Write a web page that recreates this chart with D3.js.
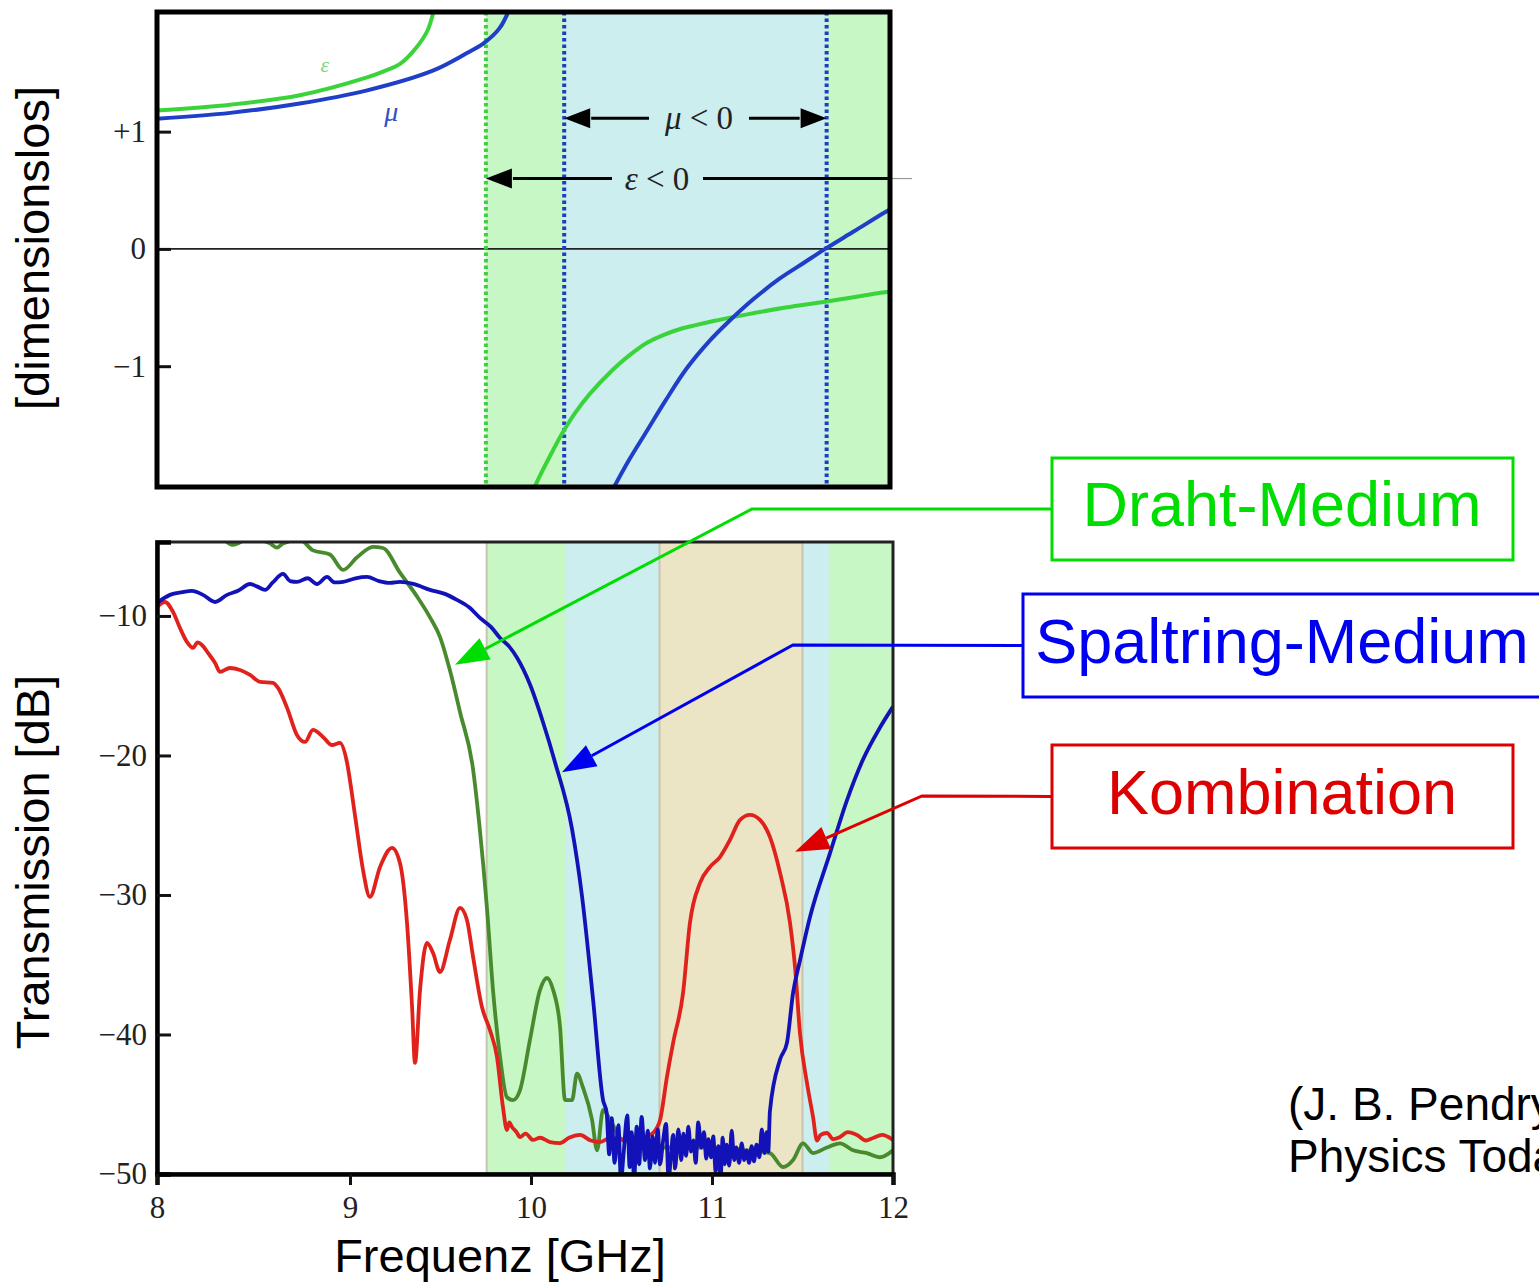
<!DOCTYPE html>
<html>
<head>
<meta charset="utf-8">
<script src="https://cdn.jsdelivr.net/npm/d3@7"></script>
<style>
  body { margin: 0; background: #fff; }
  svg { display: block; }
</style>
</head>
<body>
<script>
// ---- data ----
const freqTicks = [8, 9, 10, 11, 12];
const relTicks = [1, 0, -1];
const relTickLabels = ["+1", "0", "\u22121"];
const dbTicks = [-10, -20, -30, -40, -50];

// frequency bands (GHz)
const epsNegStart = 9.755;
const muNegStart = 10.19;
const muNegEnd = 11.648;
const bothNeg = [10.71, 11.50];

// top panel: relative permittivity / permeability
const epsUpper = [[8.0,1.18],[8.38,1.23],[8.74,1.31],[9.09,1.46],[9.18,1.51],[9.28,1.58],[9.37,1.72],[9.43,1.86],[9.47,2.06]];
const muUpper = [[8.0,1.11],[8.38,1.16],[8.74,1.24],[9.09,1.35],[9.46,1.52],[9.65,1.67],[9.74,1.75],[9.83,1.88],[9.89,2.06]];
const epsLower = [[10.0,-2.12],[10.05,-1.95],[10.12,-1.74],[10.18,-1.57],[10.25,-1.40],[10.33,-1.24],[10.46,-1.03],[10.55,-0.91],[10.65,-0.80],[10.74,-0.735],[10.83,-0.685],[10.92,-0.65],[11.02,-0.615],[11.20,-0.56],[11.42,-0.50],[11.64,-0.45],[11.97,-0.37],[12.0,-0.365]];
const muLower = [[10.46,-2.05],[10.55,-1.80],[10.65,-1.55],[10.75,-1.30],[10.87,-1.02],[11.0,-0.78],[11.09,-0.64],[11.24,-0.43],[11.39,-0.25],[11.52,-0.12],[11.64,0.0],[11.80,0.15],[11.97,0.31],[12.0,0.335]];

// bottom panel: transmission (dB)
const wireMedium = [[8.30,-3.6],[8.394,-4.9],[8.482,-4.4],[8.585,-4.8],[8.622,-5.1],[8.653,-4.8],[8.741,-4.55],[8.808,-5.3],[8.896,-5.6],[8.964,-6.7],[9.039,-5.8],[9.127,-5.05],[9.182,-5.13],[9.276,-6.9],[9.370,-8.6],[9.442,-10.1],[9.497,-11.5],[9.552,-13.9],[9.608,-16.9],[9.680,-21.0],[9.715,-25.0],[9.757,-31.0],[9.790,-36.8],[9.829,-41.6],[9.867,-44.5],[9.901,-44.7],[9.939,-44.0],[9.994,-40.4],[10.050,-36.8],[10.088,-35.95],[10.122,-36.8],[10.160,-39.4],[10.188,-44.7],[10.227,-44.7],[10.254,-42.8],[10.287,-43.8],[10.337,-46.1],[10.365,-48.3],[10.398,-45.4],[10.436,-46.1],[10.508,-47.6],[10.602,-47.8],[10.696,-48.1],[10.823,-48.1],[11.006,-48.1],[11.193,-48.3],[11.320,-48.5],[11.392,-49.5],[11.448,-49.0],[11.503,-47.8],[11.558,-48.5],[11.635,-48.1],[11.707,-47.8],[11.779,-48.3],[11.856,-48.5],[11.928,-48.8],[12.0,-48.3]];

const splitRing = [[8.000,-9.07],[8.067,-8.49],[8.130,-8.3],[8.181,-8.21],[8.238,-8.49],[8.301,-9.00],[8.363,-8.49],[8.420,-8.2],[8.482,-7.71],[8.520,-7.9],[8.560,-8.13],[8.600,-7.6],[8.653,-6.99],[8.690,-7.5],[8.725,-7.56],[8.780,-7.3],[8.829,-7.71],[8.881,-7.20],[8.920,-7.6],[8.964,-7.56],[9.030,-7.3],[9.094,-7.20],[9.160,-7.5],[9.221,-7.63],[9.276,-7.56],[9.350,-7.7],[9.442,-8.13],[9.520,-8.4],[9.591,-8.85],[9.660,-9.4],[9.718,-10.14],[9.780,-10.8],[9.829,-11.58],[9.880,-12.2],[9.923,-13.0],[9.994,-14.9],[10.066,-17.6],[10.133,-20.5],[10.227,-25.3],[10.282,-30.1],[10.343,-37.5],[10.398,-44.7],[10.418,-45.6],
  [10.432,-48.6],[10.446,-46.0],[10.462,-49.2],[10.483,-46.5],[10.497,-50.5],[10.510,-48.8],[10.532,-45.8],[10.545,-49.5],[10.556,-47.0],[10.570,-50.4],[10.584,-46.6],[10.598,-49.3],[10.611,-45.9],[10.630,-49.0],[10.645,-46.9],[10.657,-49.6],[10.672,-47.3],[10.685,-49.2],[10.700,-46.8],[10.713,-49.3],[10.730,-47.6],[10.746,-46.4],[10.760,-50.4],[10.772,-48.9],[10.785,-47.2],[10.796,-49.6],[10.814,-46.8],[10.830,-49.0],[10.842,-47.1],[10.857,-48.7],[10.869,-46.6],[10.884,-48.4],[10.897,-47.6],[10.910,-49.2],[10.924,-46.3],[10.940,-48.1],[10.956,-47.0],[10.968,-48.9],[10.980,-47.5],[10.995,-48.8],[11.007,-47.3],[11.020,-49.8],[11.035,-48.0],[11.047,-50.4],[11.059,-47.4],[11.070,-49.3],[11.081,-47.9],[11.095,-49.4],[11.109,-46.9],[11.122,-49.0],[11.134,-48.1],[11.150,-49.2],[11.164,-47.8],[11.178,-49.0],[11.191,-48.3],[11.205,-49.2],[11.219,-48.0],[11.232,-49.1],[11.246,-47.9],[11.262,-48.8],[11.275,-46.8],[11.290,-48.5],[11.302,-47.0],[11.311,-48.4],[11.320,-45.5],
  [11.376,-41.8],[11.414,-40.6],[11.448,-37.0],[11.486,-34.7],[11.541,-31.6],[11.652,-27.0],[11.746,-23.2],[11.834,-20.3],[11.928,-18.0],[12.0,-16.5]];

const combined = [[8.000,-9.35],[8.041,-9.00],[8.083,-9.71],[8.119,-10.86],[8.155,-11.86],[8.187,-12.29],[8.210,-11.9],[8.233,-12.08],[8.264,-12.65],[8.301,-13.37],[8.326,-14.01],[8.378,-13.73],[8.430,-13.87],[8.482,-14.23],[8.534,-14.73],[8.601,-14.80],[8.627,-15.16],[8.674,-16.59],[8.725,-18.53],[8.767,-19.03],[8.808,-18.17],[8.860,-18.67],[8.907,-19.25],[8.948,-19.10],[8.984,-20.47],[9.017,-23.33],[9.039,-25.34],[9.072,-28.21],[9.110,-30.14],[9.166,-27.99],[9.232,-26.63],[9.276,-27.71],[9.315,-32.01],[9.343,-38.03],[9.359,-42.04],[9.387,-36.81],[9.425,-33.44],[9.459,-34.16],[9.497,-35.52],[9.552,-33.23],[9.608,-30.93],[9.646,-31.79],[9.680,-34.44],[9.729,-38.03],[9.773,-39.68],[9.812,-41.61],[9.845,-45.20],[9.867,-46.85],[9.880,-46.3],[9.895,-46.63],[9.920,-47.0],[9.939,-47.35],[9.970,-47.1],[10.011,-47.56],[10.050,-47.4],[10.105,-47.71],[10.160,-47.78],[10.210,-47.4],[10.271,-47.20],[10.330,-47.6],[10.381,-47.71],[10.440,-47.4],[10.492,-47.56],[10.550,-47.3],[10.602,-47.56],[10.640,-47.3],[10.674,-47.06],[10.713,-46.13],[10.751,-43.05],[10.785,-40.61],[10.840,-37.03],[10.878,-32.01],[10.934,-29.14],[10.989,-27.99],[11.044,-27.28],[11.099,-26.06],[11.155,-24.62],[11.210,-24.26],[11.265,-24.62],[11.320,-25.84],[11.376,-28.42],[11.431,-32.0],[11.459,-35.2],[11.486,-39.9],[11.525,-43.5],[11.558,-45.9],[11.580,-47.6],[11.600,-47.2],[11.635,-47.06],[11.670,-47.5],[11.707,-47.35],[11.750,-47.0],[11.801,-47.20],[11.850,-47.6],[11.890,-47.42],[11.940,-47.2],[12.0,-47.56]];

const legendNames = ["Draht-Medium", "Spaltring-Medium", "Kombination"];
const legendTips = [[9.58, -13.5], [10.171, -21.2], [11.459, -26.9]];
const citation = ["(J. B. Pendry, D. R. Smith,", "Physics Today 57, 37 (2004))"];

// ---- drawing ----
const W = 1539, H = 1284;
const svg = d3.select("body").append("svg").attr("width", W).attr("height", H);
svg.append("rect").attr("width", W).attr("height", H).attr("fill", "#fff");

const serif = "'Liberation Serif', 'DejaVu Serif', serif";
const sans = "'Liberation Sans', Arial, sans-serif";
const cGreenBand = "#c7f7c5", cBlueBand = "#cdeeee", cTanBand = "#ebe4c5";

// scales (the source figure's frequency axis is slightly stretched between 8 and 9)
const xT = d3.scaleLinear().domain([8, 9, 12]).range([157, 350, 890]);
const yT = d3.scaleLinear().domain([-2.03, 2.02]).range([487, 12]);
const xB = d3.scaleLinear().domain([8, 9, 12]).range([157, 350, 893]);
const yB = d3.scaleLinear().domain([-50, -4.7]).range([1174, 542]);

const defs = svg.append("defs");
defs.append("clipPath").attr("id", "clipT").append("rect")
  .attr("x", xT(8)).attr("y", yT(2.02)).attr("width", xT(12) - xT(8)).attr("height", yT(-2.03) - yT(2.02));
defs.append("clipPath").attr("id", "clipB").append("rect")
  .attr("x", xB(8)).attr("y", yB(-4.7)).attr("width", xB(12) - xB(8)).attr("height", yB(-50) - yB(-4.7));

function arrowHead(g, x1, y1, x2, y2, color, len, half) {
  const a = Math.atan2(y2 - y1, x2 - x1);
  const bx = x2 - len * Math.cos(a), by = y2 - len * Math.sin(a);
  const px = -Math.sin(a) * half, py = Math.cos(a) * half;
  g.append("path")
    .attr("d", `M${x2},${y2}L${bx + px},${by + py}L${bx - px},${by - py}Z`)
    .attr("fill", color);
  return [bx, by];
}

// ===== top panel =====
const topG = svg.append("g");
const topBody = topG.append("g").attr("clip-path", "url(#clipT)");
topBody.append("rect").attr("x", xT(epsNegStart)).attr("y", yT(2.02))
  .attr("width", xT(12) - xT(epsNegStart)).attr("height", yT(-2.03) - yT(2.02)).attr("fill", cGreenBand);
topBody.append("rect").attr("x", xT(muNegStart)).attr("y", yT(2.02))
  .attr("width", xT(muNegEnd) - xT(muNegStart)).attr("height", yT(-2.03) - yT(2.02)).attr("fill", cBlueBand);

// zero line
topBody.append("line").attr("x1", xT(8)).attr("x2", xT(12)).attr("y1", yT(0)).attr("y2", yT(0))
  .attr("stroke", "#222").attr("stroke-width", 1.6);

// dotted band edges
[[epsNegStart, "#3fcf3f"], [muNegStart, "#1e3cc4"], [muNegEnd, "#1e3cc4"]].forEach(([f, c]) => {
  topBody.append("line").attr("x1", xT(f)).attr("x2", xT(f)).attr("y1", yT(2.02)).attr("y2", yT(-2.03))
    .attr("stroke", c).attr("stroke-width", 4).attr("stroke-dasharray", "3.5,3");
});

const lineT = d3.line().x(d => xT(d[0])).y(d => yT(d[1])).curve(d3.curveCatmullRom.alpha(0.5));
[[epsUpper, "#3ad43a"], [epsLower, "#3ad43a"], [muUpper, "#1f3fc8"], [muLower, "#1f3fc8"]].forEach(([d, c]) => {
  topBody.append("path").datum(d).attr("d", lineT).attr("fill", "none")
    .attr("stroke", c).attr("stroke-width", 4);
});

// region arrows
const ann = topG.append("g");
const yMu = yT(1.115), yEps = yT(0.60);
const xMuText = 699, xEpsText = 657;
// mu < 0
let b = arrowHead(ann, xMuText, yMu, xT(muNegStart), yMu, "#000", 26, 10);
ann.append("line").attr("x1", xMuText - 50).attr("x2", b[0] + 1).attr("y1", yMu).attr("y2", yMu).attr("stroke", "#000").attr("stroke-width", 3);
b = arrowHead(ann, xMuText, yMu, xT(muNegEnd), yMu, "#000", 26, 10);
ann.append("line").attr("x1", xMuText + 50).attr("x2", b[0] - 1).attr("y1", yMu).attr("y2", yMu).attr("stroke", "#000").attr("stroke-width", 3);
ann.append("text").attr("x", xMuText).attr("y", yMu + 11).attr("text-anchor", "middle")
  .attr("font-family", serif).attr("font-size", 33).attr("fill", "#222")
  .html('<tspan font-style="italic">\u03bc</tspan> &lt; 0');
// eps < 0
b = arrowHead(ann, xEpsText, yEps, xT(epsNegStart), yEps, "#000", 26, 10);
ann.append("line").attr("x1", xEpsText - 45).attr("x2", b[0] + 1).attr("y1", yEps).attr("y2", yEps).attr("stroke", "#000").attr("stroke-width", 3);
ann.append("line").attr("x1", xEpsText + 46).attr("x2", xT(12)).attr("y1", yEps).attr("y2", yEps).attr("stroke", "#000").attr("stroke-width", 3);
ann.append("line").attr("x1", xT(12)).attr("x2", xT(12) + 22).attr("y1", yEps).attr("y2", yEps).attr("stroke", "#999").attr("stroke-width", 1.2);
ann.append("text").attr("x", xEpsText).attr("y", yEps + 11).attr("text-anchor", "middle")
  .attr("font-family", serif).attr("font-size", 33).attr("fill", "#222")
  .html('<tspan font-style="italic">\u03b5</tspan> &lt; 0');

// curve labels
ann.append("text").attr("x", xT(8.87)).attr("y", yT(1.57) + 7).attr("text-anchor", "middle")
  .attr("font-family", serif).attr("font-style", "italic").attr("font-size", 22).attr("fill", "#7ad87a").text("\u03b5");
ann.append("text").attr("x", xT(9.23)).attr("y", yT(1.16) + 8).attr("text-anchor", "middle")
  .attr("font-family", serif).attr("font-style", "italic").attr("font-size", 28).attr("fill", "#3050c0").text("\u03bc");

// axis + frame
const axT = topG.append("g").attr("transform", `translate(${xT(8)},0)`)
  .call(d3.axisLeft(yT).tickValues(relTicks).tickFormat((d, i) => relTickLabels[i]).tickSize(-14).tickPadding(11));
axT.select(".domain").remove();
axT.selectAll(".tick line").attr("stroke", "#111").attr("stroke-width", 3);
axT.selectAll(".tick text").attr("font-family", serif).attr("font-size", 31).attr("fill", "#222");
topG.append("rect").attr("x", xT(8)).attr("y", yT(2.02)).attr("width", xT(12) - xT(8)).attr("height", yT(-2.03) - yT(2.02))
  .attr("fill", "none").attr("stroke", "#000").attr("stroke-width", 5);

// ===== bottom panel =====
const botG = svg.append("g");
const botBody = botG.append("g").attr("clip-path", "url(#clipB)");
const yTopB = yB(-4.7), hB = yB(-50) - yB(-4.7);
function band(f0, f1, color) {
  botBody.append("rect").attr("x", xB(f0)).attr("y", yTopB).attr("width", xB(f1) - xB(f0)).attr("height", hB).attr("fill", color);
}
band(epsNegStart, 12, cGreenBand);
band(muNegStart, muNegEnd, cBlueBand);
band(bothNeg[0], bothNeg[1], cTanBand);
[epsNegStart, bothNeg[0], bothNeg[1]].forEach(f => {
  botBody.append("line").attr("x1", xB(f)).attr("x2", xB(f)).attr("y1", yTopB).attr("y2", yTopB + hB)
    .attr("stroke", "#c9c3b2").attr("stroke-width", 2);
});

const lineB = d3.line().x(d => xB(d[0])).y(d => yB(d[1])).curve(d3.curveMonotoneX);
[[wireMedium, "#4a8a2e"], [combined, "#e0221c"], [splitRing, "#1212b8"]].forEach(([d, c]) => {
  botBody.append("path").datum(d).attr("d", lineB).attr("fill", "none")
    .attr("stroke", c).attr("stroke-width", 3.8).attr("stroke-linejoin", "round");
});

// frame
botG.append("rect").attr("x", xB(8)).attr("y", yTopB).attr("width", xB(12) - xB(8)).attr("height", hB)
  .attr("fill", "none").attr("stroke", "#222").attr("stroke-width", 3);

const axBy = botG.append("g").attr("transform", `translate(${xB(8)},0)`)
  .call(d3.axisLeft(yB).tickValues(dbTicks).tickSize(-14).tickPadding(10));
axBy.select(".domain").attr("stroke", "#000").attr("stroke-width", 4.5);
axBy.selectAll(".tick line").attr("stroke", "#111").attr("stroke-width", 3);
axBy.selectAll(".tick text").attr("font-family", serif).attr("font-size", 31).attr("fill", "#222");

const axBx = botG.append("g").attr("transform", `translate(0,${yB(-50)})`)
  .call(d3.axisBottom(xB).tickValues(freqTicks).tickFormat(d3.format("d")).tickSize(11).tickPadding(11));
axBx.select(".domain").attr("stroke", "#000").attr("stroke-width", 4.5);
axBx.selectAll(".tick line").attr("stroke", "#111").attr("stroke-width", 3);
axBx.selectAll(".tick text").attr("font-family", serif).attr("font-size", 31).attr("fill", "#222");

// axis titles
svg.append("text").attr("transform", "translate(49,248) rotate(-90)").attr("text-anchor", "middle")
  .attr("font-family", sans).attr("font-size", 47).attr("fill", "#000").text("[dimensionslos]");
svg.append("text").attr("transform", "translate(49,862) rotate(-90)").attr("text-anchor", "middle")
  .attr("font-family", sans).attr("font-size", 47).attr("fill", "#000").text("Transmission [dB]");
svg.append("text").attr("x", 500).attr("y", 1272).attr("text-anchor", "middle")
  .attr("font-family", sans).attr("font-size", 47).attr("fill", "#000").text("Frequenz [GHz]");

// ===== legend boxes with leader arrows =====
const legendColors = ["#00dd00", "#0000f0", "#dd0000"];
const legendBoxes = [{ x: 1052, y: 458, w: 461, h: 102 }, { x: 1023, y: 594, w: 520, h: 103 }, { x: 1052, y: 745, w: 461, h: 103 }];
const legendElbows = [[752, 509], [793, 645], [922, 796]];
const leg = svg.append("g");
legendNames.forEach((name, i) => {
  const bx = legendBoxes[i], c = legendColors[i];
  const cy = bx.y + bx.h / 2;
  leg.append("rect").attr("x", bx.x).attr("y", bx.y).attr("width", bx.w).attr("height", bx.h)
    .attr("fill", "#fff").attr("stroke", c).attr("stroke-width", 3);
  leg.append("text").attr("x", 1282).attr("y", cy + 17).attr("text-anchor", "middle")
    .attr("font-family", sans).attr("font-size", 63).attr("fill", c).text(name);
  const tip = [xB(legendTips[i][0]), yB(legendTips[i][1])];
  const el = legendElbows[i];
  const base = arrowHead(leg, el[0], el[1], tip[0], tip[1], c, 34, 12);
  leg.append("polyline")
    .attr("points", [[bx.x, cy], el, base].map(p => p.join(",")).join(" "))
    .attr("fill", "none").attr("stroke", c).attr("stroke-width", 3);
});

// citation (runs off the right edge, as in the source)
citation.forEach((t, i) => {
  svg.append("text").attr("x", 1288).attr("y", 1120 + i * 52)
    .attr("font-family", sans).attr("font-size", 46).attr("fill", "#000").text(t);
});
</script>
</body>
</html>
